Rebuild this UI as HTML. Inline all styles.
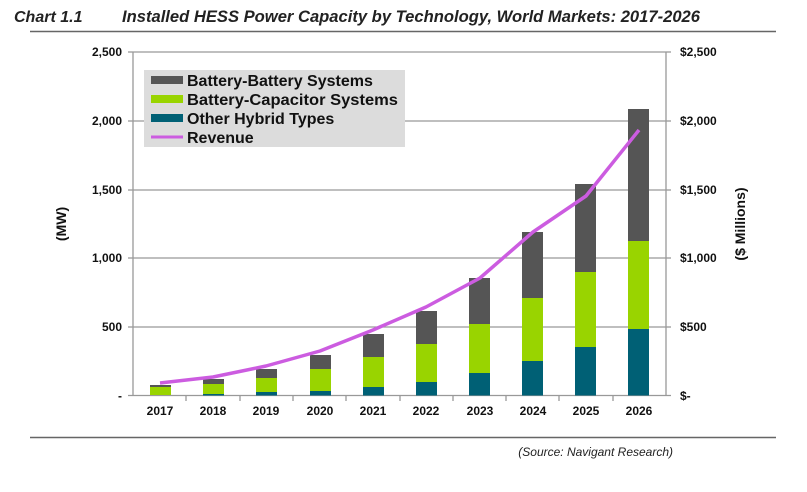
<!DOCTYPE html>
<html><head><meta charset="utf-8"><style>
body{margin:0;background:#fff;width:807px;height:487px;overflow:hidden;font-family:"Liberation Sans",Arial,sans-serif}
</style></head><body>
<svg width="807" height="487" xmlns="http://www.w3.org/2000/svg" font-family="Liberation Sans, Arial, sans-serif">
<text x="14" y="22" font-size="16" font-weight="bold" font-style="italic" fill="#222">Chart 1.1</text>
<text x="122" y="22" font-size="16.5" font-weight="bold" font-style="italic" fill="#222" textLength="578" lengthAdjust="spacingAndGlyphs">Installed HESS Power Capacity by Technology, World Markets: 2017-2026</text>
<line x1="30" y1="31.5" x2="776" y2="31.5" stroke="#666" stroke-width="1.5"/>
<g stroke="#999" stroke-width="1.3">
<line x1="133" y1="52" x2="666" y2="52"/><line x1="133" y1="121" x2="666" y2="121"/><line x1="133" y1="190" x2="666" y2="190"/><line x1="133" y1="258" x2="666" y2="258"/><line x1="133" y1="327" x2="666" y2="327"/><line x1="128" y1="395.5" x2="671" y2="395.5"/>
<line x1="133" y1="52" x2="133" y2="396"/><line x1="666" y1="52" x2="666" y2="396"/>
<line x1="128" y1="52" x2="133" y2="52"/><line x1="128" y1="121" x2="133" y2="121"/><line x1="128" y1="190" x2="133" y2="190"/><line x1="128" y1="258" x2="133" y2="258"/><line x1="128" y1="327" x2="133" y2="327"/>
<line x1="666" y1="52" x2="671" y2="52"/><line x1="666" y1="121" x2="671" y2="121"/><line x1="666" y1="190" x2="671" y2="190"/><line x1="666" y1="258" x2="671" y2="258"/><line x1="666" y1="327" x2="671" y2="327"/>
<line x1="186" y1="396" x2="186" y2="401"/><line x1="240" y1="396" x2="240" y2="401"/><line x1="293" y1="396" x2="293" y2="401"/><line x1="346" y1="396" x2="346" y2="401"/><line x1="400" y1="396" x2="400" y2="401"/><line x1="453" y1="396" x2="453" y2="401"/><line x1="506" y1="396" x2="506" y2="401"/><line x1="559" y1="396" x2="559" y2="401"/><line x1="613" y1="396" x2="613" y2="401"/>
</g>
<g font-size="12" font-weight="bold" fill="#111" text-anchor="end">
<text x="122" y="56">2,500</text><text x="122" y="125">2,000</text><text x="122" y="194">1,500</text><text x="122" y="262">1,000</text><text x="122" y="331">500</text><text x="122" y="400">-</text>
</g>
<g font-size="12" font-weight="bold" fill="#111">
<text x="680" y="56">$2,500</text><text x="680" y="125">$2,000</text><text x="680" y="194">$1,500</text><text x="680" y="262">$1,000</text><text x="680" y="331">$500</text><text x="680" y="400">$-</text>
</g>
<text transform="translate(66,224) rotate(-90)" font-size="14" font-weight="bold" text-anchor="middle" fill="#111">(MW)</text>
<text transform="translate(745,224) rotate(-90)" font-size="14" font-weight="bold" text-anchor="middle" fill="#111">($ Millions)</text>
<g font-size="12" font-weight="bold" fill="#111" text-anchor="middle">
<text x="160" y="415">2017</text><text x="213" y="415">2018</text><text x="266" y="415">2019</text><text x="320" y="415">2020</text><text x="373" y="415">2021</text><text x="426" y="415">2022</text><text x="480" y="415">2023</text><text x="533" y="415">2024</text><text x="586" y="415">2025</text><text x="639" y="415">2026</text>
</g>
<g>
<rect x="150" y="385" width="21" height="2" fill="#555"/><rect x="150" y="387" width="21" height="8" fill="#99d400"/>
<rect x="203" y="379" width="21" height="5" fill="#555"/><rect x="203" y="384" width="21" height="10" fill="#99d400"/><rect x="203" y="394" width="21" height="1.5" fill="#006075"/>
<rect x="256" y="369" width="21" height="9" fill="#555"/><rect x="256" y="378" width="21" height="14" fill="#99d400"/><rect x="256" y="392" width="21" height="3.5" fill="#006075"/>
<rect x="310" y="355" width="21" height="14" fill="#555"/><rect x="310" y="369" width="21" height="22" fill="#99d400"/><rect x="310" y="391" width="21" height="4.5" fill="#006075"/>
<rect x="363" y="334" width="21" height="23" fill="#555"/><rect x="363" y="357" width="21" height="30" fill="#99d400"/><rect x="363" y="387" width="21" height="8.5" fill="#006075"/>
<rect x="416" y="311" width="21" height="33" fill="#555"/><rect x="416" y="344" width="21" height="38" fill="#99d400"/><rect x="416" y="382" width="21" height="13.5" fill="#006075"/>
<rect x="469" y="278" width="21" height="46" fill="#555"/><rect x="469" y="324" width="21" height="49" fill="#99d400"/><rect x="469" y="373" width="21" height="22.5" fill="#006075"/>
<rect x="522" y="232" width="21" height="66" fill="#555"/><rect x="522" y="298" width="21" height="63" fill="#99d400"/><rect x="522" y="361" width="21" height="34.5" fill="#006075"/>
<rect x="575" y="184" width="21" height="88" fill="#555"/><rect x="575" y="272" width="21" height="75" fill="#99d400"/><rect x="575" y="347" width="21" height="48.5" fill="#006075"/>
<rect x="628" y="109" width="21" height="132" fill="#555"/><rect x="628" y="241" width="21" height="88" fill="#99d400"/><rect x="628" y="329" width="21" height="66.5" fill="#006075"/>
</g>
<polyline points="160,383 213,377 266,366 320,351 373,330 426,307 480,278 533,232 586,196 639,130" fill="none" stroke="#cc5ce0" stroke-width="3.5" stroke-linejoin="round"/>
<rect x="144" y="70" width="261" height="77" fill="#dcdcdc"/>
<rect x="151" y="76" width="32" height="8" fill="#555"/>
<rect x="151" y="95" width="32" height="8" fill="#99d400"/>
<rect x="151" y="114" width="32" height="8" fill="#006075"/>
<line x1="151" y1="137" x2="183" y2="137" stroke="#cc5ce0" stroke-width="3"/>
<g font-size="16" font-weight="bold" fill="#111">
<text x="187" y="86">Battery-Battery Systems</text>
<text x="187" y="105" textLength="211" lengthAdjust="spacingAndGlyphs">Battery-Capacitor Systems</text>
<text x="187" y="124">Other Hybrid Types</text>
<text x="187" y="143">Revenue</text>
</g>
<line x1="30" y1="437.5" x2="776" y2="437.5" stroke="#666" stroke-width="1.5"/>
<text x="673" y="456" font-size="12" font-style="italic" fill="#222" text-anchor="end">(Source: Navigant Research)</text>
</svg>
</body></html>
